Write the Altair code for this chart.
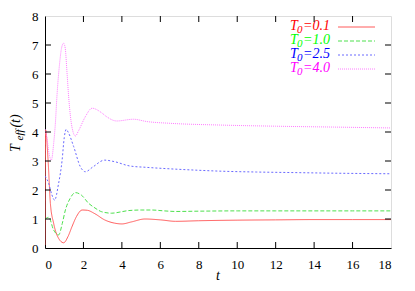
import altair as alt
import pandas as pd

# ---- data ----
red_t = [0, 0.03, 0.16, 0.28, 0.45, 0.71, 0.97, 1.2, 1.4, 1.65, 1.93, 2.2, 2.6, 3.1, 3.6, 4.0, 4.5, 5.2, 6.0, 6.8, 8, 10, 12, 14, 16, 18]
red_T = [0.1, 4.07, 3.03, 1.54, 0.85, 0.33, 0.18, 0.4, 0.73, 1.1, 1.31, 1.3, 1.18, 0.97, 0.86, 0.83, 0.9, 1.0, 0.97, 0.92, 0.94, 0.96, 0.97, 0.98, 0.98, 0.98]

green_t = [0, 0.19, 0.45, 0.71, 0.9, 1.06, 1.3, 1.58, 1.9, 2.27, 2.6, 2.95, 3.47, 3.9, 4.34, 5.0, 5.56, 6.2, 6.8, 8, 10, 12, 14, 16, 18]
green_T = [0.99, 1.06, 0.62, 0.45, 0.85, 1.31, 1.7, 1.91, 1.82, 1.54, 1.38, 1.25, 1.2, 1.24, 1.29, 1.31, 1.31, 1.28, 1.26, 1.27, 1.28, 1.28, 1.28, 1.28, 1.28]

blue_t = [0, 0.19, 0.36, 0.5, 0.7, 0.89, 1.0, 1.1, 1.2, 1.49, 1.84, 2.1, 2.5, 3.1, 3.6, 4.4, 5.3, 6.5, 8, 9.1, 11, 13, 15, 18]
blue_T = [2.48, 2.23, 1.83, 1.65, 2.2, 3.03, 3.8, 4.09, 4.0, 3.5, 2.8, 2.63, 2.8, 3.03, 2.98, 2.83, 2.78, 2.73, 2.68, 2.65, 2.62, 2.6, 2.58, 2.56]

pink_t = [0, 0.1, 0.2, 0.33, 0.45, 0.54, 0.62, 0.75, 0.88, 0.97, 1.05, 1.15, 1.23, 1.4, 1.58, 1.75, 2.1, 2.45, 2.93, 3.2, 3.73, 4.6, 5.3, 6.5, 9.1, 12, 15, 18]
pink_T = [4.1, 3.8, 3.3, 3.03, 3.6, 4.3, 5.22, 6.3, 6.95, 7.06, 6.9, 6.0, 5.22, 4.18, 3.86, 4.05, 4.53, 4.82, 4.67, 4.53, 4.38, 4.44, 4.36, 4.3, 4.24, 4.2, 4.17, 4.14]

series_names = ["0.1", "1.0", "2.5", "4.0"]
line_colors = ["#ff5a5a", "#4ee04e", "#6a6aff", "#ff7cff"]
text_colors = ["#ff0000", "#00ff00", "#0000ff", "#ff00ff"]
dashes = [[1, 0], [4, 2], [2, 2], [1, 1]]

x_ticks = list(range(0, 19, 2))
y_ticks = list(range(0, 9))

# ---- build table ----
rows = []
for name, ts, vs in zip(series_names, [red_t, green_t, blue_t, pink_t], [red_T, green_T, blue_T, pink_T]):
    for t, v in zip(ts, vs):
        rows.append({"s": name, "t": t, "T": v})
df = pd.DataFrame(rows)

W, H = 346, 232
FONT = "Liberation Serif, Times New Roman, serif"

xscale = alt.Scale(domain=[0, 18], nice=False, zero=False)
yscale = alt.Scale(domain=[0, 8], nice=False)
xaxis = alt.Axis(values=x_ticks, ticks=False, grid=False, title=None,
                 labelFont=FONT, labelFontSize=13, labelColor="black",
                 labelOverlap=False, labelPadding=10, domainColor="black")
yaxis = alt.Axis(values=y_ticks, ticks=False, grid=False, title=None,
                 labelFont=FONT, labelFontSize=13, labelColor="black",
                 labelOverlap=False, labelPadding=7, domainColor="black")

lines = alt.Chart(df).mark_line(strokeWidth=1, interpolate="monotone", clip=True).encode(
    x=alt.X("t:Q", scale=xscale, axis=xaxis),
    y=alt.Y("T:Q", scale=yscale, axis=yaxis),
    color=alt.Color("s:N", scale=alt.Scale(domain=series_names, range=line_colors), legend=None),
    strokeDash=alt.StrokeDash("s:N", scale=alt.Scale(domain=series_names, range=dashes), legend=None),
    detail="s:N",
)

xt = pd.DataFrame({"t": x_ticks[1:-1]})
yt = pd.DataFrame({"T": y_ticks[1:-1]})
tick_b = alt.Chart(xt).mark_rule(color="black", strokeWidth=1).encode(
    x=alt.X("t:Q", scale=xscale, axis=xaxis), y=alt.value(H), y2=alt.value(H - 6))
tick_t = alt.Chart(xt).mark_rule(color="black", strokeWidth=1).encode(
    x=alt.X("t:Q", scale=xscale, axis=xaxis), y=alt.value(0), y2=alt.value(6))
tick_l = alt.Chart(yt).mark_rule(color="black", strokeWidth=1).encode(
    y=alt.Y("T:Q", scale=yscale, axis=yaxis), x=alt.value(0), x2=alt.value(6))
tick_r = alt.Chart(yt).mark_rule(color="black", strokeWidth=1).encode(
    y=alt.Y("T:Q", scale=yscale, axis=yaxis), x=alt.value(W), x2=alt.value(W - 6))

one = pd.DataFrame({"a": [0]})
layers = [lines, tick_b, tick_t, tick_l, tick_r]

# legend
row_y = [10, 24, 38, 52]
for name, tc, lc, d, ry in zip(series_names, text_colors, line_colors, dashes, row_y):
    layers.append(alt.Chart(one).mark_text(text="T", font=FONT, fontSize=14, fontStyle="italic",
                                           align="left", baseline="middle", color=tc)
                  .encode(x=alt.value(245), y=alt.value(ry)))
    layers.append(alt.Chart(one).mark_text(text="0", font=FONT, fontSize=11, fontStyle="italic",
                                           align="left", baseline="middle", color=tc)
                  .encode(x=alt.value(252), y=alt.value(ry + 4)))
    layers.append(alt.Chart(one).mark_text(text="=" + name, font=FONT, fontSize=14, fontStyle="italic",
                                           align="right", baseline="middle", color=tc)
                  .encode(x=alt.value(285), y=alt.value(ry)))
    layers.append(alt.Chart(one).mark_rule(color=lc, strokeWidth=1, strokeDash=d)
                  .encode(x=alt.value(293), x2=alt.value(330), y=alt.value(ry + 1)))

# y-axis title  T_eff(t)
layers.append(alt.Chart(one).mark_text(text="T", font=FONT, fontSize=14, fontStyle="italic",
                                       angle=270, align="center", baseline="middle", color="black")
              .encode(x=alt.value(-29), y=alt.value(132)))
layers.append(alt.Chart(one).mark_text(text="eff", font=FONT, fontSize=11, fontStyle="italic",
                                       angle=270, align="center", baseline="middle", color="black")
              .encode(x=alt.value(-25), y=alt.value(119)))
layers.append(alt.Chart(one).mark_text(text="(t)", font=FONT, fontSize=14, fontStyle="italic",
                                       angle=270, align="center", baseline="middle", color="black")
              .encode(x=alt.value(-29), y=alt.value(105)))

# x-axis title  t
layers.append(alt.Chart(one).mark_text(text="t", font=FONT, fontSize=14, fontStyle="italic",
                                       align="center", baseline="alphabetic", color="black")
              .encode(x=alt.value(W / 2), y=alt.value(H + 32)))

chart = alt.layer(*layers).properties(
    width=W, height=H,
    autosize=alt.AutoSizeParams(type="none"),
    padding={"left": 37, "top": 8, "right": 16, "bottom": 35},
).configure_view(stroke="black", strokeWidth=1).configure(background="white")

chart.save("out.html", embed_options={"renderer": "svg", "actions": False})
